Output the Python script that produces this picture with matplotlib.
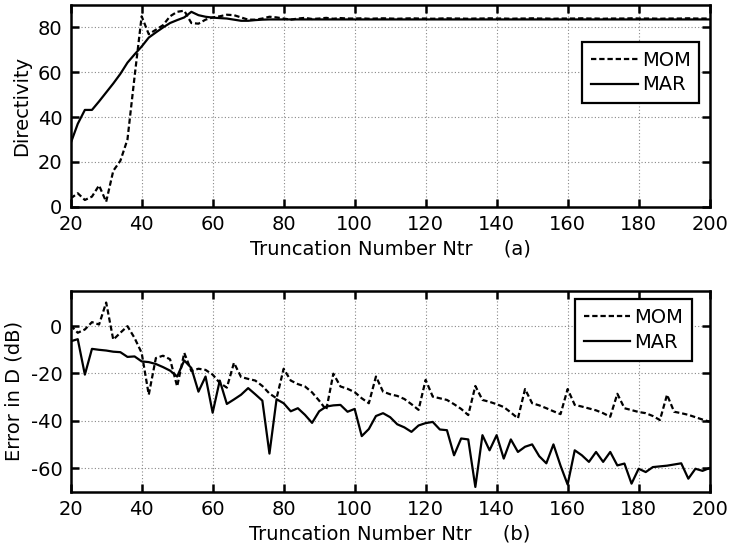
import numpy as np
import matplotlib
matplotlib.use("Agg")
import matplotlib.pyplot as plt

plt.rcParams['font.family'] = ['DejaVu Sans']
plt.rcParams['axes.unicode_minus'] = False

# truncation numbers (x axis)
ntr = np.arange(20, 201, 2)

# ---- panel (a): directivity ----
mom_dir = [3.7, 6, 3, 4.5, 9.5, 2.2, 16, 20.5, 30, 58,
           85, 77, 79, 81, 85, 87, 87.5, 82, 81.7, 83.5,
           84.5, 85, 85.7, 85.5, 84.5, 83.5, 83.5, 84, 84.8, 84.5,
           84, 83.5, 84, 84.3, 83.8, 84, 84.3, 83.9, 84.2, 84,
           84, 84.1, 83.9, 84, 84.1, 84, 83.9, 84, 84.1, 84,
           84, 83.9, 84, 84.1, 84, 84, 83.9, 84, 84, 84.1,
           84, 84, 83.9, 84, 84, 84.1, 84, 84, 83.9, 84,
           84, 84, 84.1, 84, 84, 83.9, 84, 84, 84, 84.1,
           84, 84, 84, 83.9, 84, 84, 84, 84.1, 84, 84, 84]
mar_dir = [28.3, 37, 43.2, 43.2, 47, 51, 55, 59.3, 64.3, 68,
           71.5, 75.5, 77.8, 80, 82, 83.3, 84.5, 87, 85.5, 84.8,
           84.4, 84.2, 84, 83.5, 83, 83, 83.3, 83.5, 83.6, 83.6,
           83.6, 83.6, 83.6, 83.6, 83.6, 83.6, 83.6, 83.6, 83.6, 83.6,
           83.6, 83.6, 83.6, 83.6, 83.6, 83.6, 83.6, 83.6, 83.6, 83.6,
           83.6, 83.6, 83.6, 83.6, 83.6, 83.6, 83.6, 83.6, 83.6, 83.6,
           83.6, 83.6, 83.6, 83.6, 83.6, 83.6, 83.6, 83.6, 83.6, 83.6,
           83.6, 83.6, 83.6, 83.6, 83.6, 83.6, 83.6, 83.6, 83.6, 83.6,
           83.6, 83.6, 83.6, 83.6, 83.6, 83.6, 83.6, 83.6, 83.6, 83.6, 83.6]

# ---- panel (b): error in D (dB) ----
mom_err = [0.3, -2.8, -1.4, 1.7, 0.7, 10, -5.7, -2.8, 0, -5,
           -11.3, -29, -13.5, -12.5, -14, -25.5, -11.3, -19, -18, -18.5,
           -20.5, -24, -26, -15.5, -21.5, -22.3, -23, -25.3, -28.5, -30.5,
           -18, -23, -24.5, -25.5, -28, -31.5, -35.4, -20.1, -25.5, -26.5,
           -27.9, -30.5, -32.6, -21.3, -27.7, -28.8, -29.5, -30.8, -33, -35.4,
           -22.7, -29.8, -30.5, -31.2, -33, -35, -37.6, -25.3, -31.2, -32,
           -33, -34.2, -36.5, -39, -26.6, -32.6, -33.5, -34.7, -36, -37.2,
           -26.6, -33.3, -34, -34.8, -35.6, -36.8, -38.3, -28.6, -34.7, -35.5,
           -36.3, -36.8, -38, -39.7, -29, -36.2, -36.8, -37.5, -38.5, -39.5, -40.4]
mar_err = [-6.4, -5.5, -20.5, -9.6, -10, -10.3, -10.8, -11, -13, -12.8,
           -14.9, -15.2, -16, -17.3, -18.8, -21.3, -14.5, -17.7, -27.7, -21.3,
           -36.6, -23, -32.9, -31, -29, -26.2, -28.8, -31.5, -53.9, -30.9,
           -32.6, -36, -34.7, -37.5, -40.9, -36, -34, -33.5, -33.3, -36.2,
           -35, -46.5, -43.5, -38, -36.8, -38.5, -41.5, -42.8, -44.7, -42,
           -41, -40.5, -43.7, -44, -54.6, -47.5, -47.9, -68, -46.1, -52.5,
           -46.1, -56, -47.9, -53.2, -51, -50, -55, -58, -50, -59,
           -67, -52.5, -54.6, -57.4, -53.2, -57.4, -53.2, -58.9, -58.1, -66.6,
           -60.3, -61.7, -59.6, -59.3, -59, -58.5, -58, -64.5, -60.3, -61.2, -60]

xticks = [20, 40, 60, 80, 100, 120, 140, 160, 180, 200]
yticks_a = [0, 20, 40, 60, 80]
yticks_b = [0, -20, -40, -60]

fig = plt.figure(figsize=(7.3, 5.6), dpi=100)
ax1 = fig.add_axes([0.0968, 0.6309, 0.8753, 0.3600])
ax2 = fig.add_axes([0.0968, 0.1220, 0.8753, 0.3589])

dash = (0, (2.4, 1.3))
FS = 14
LW = 1.6

def style(ax):
    ax.set_xlim(20, 200)
    ax.set_xticks(xticks)
    ax.grid(True, linestyle=(0, (1, 2)), color='#888888', linewidth=0.8)
    ax.tick_params(direction='in', top=True, right=True, length=6, width=1.8,
                   labelsize=FS, pad=6)
    for s in ax.spines.values():
        s.set_linewidth(1.8)

def legend(ax, anchor):
    leg = ax.legend(loc='upper right', bbox_to_anchor=anchor, fontsize=FS,
                    frameon=True, fancybox=False, edgecolor='black', framealpha=1,
                    handlelength=2.4, handletextpad=0.2, borderpad=0.45,
                    labelspacing=0.3, borderaxespad=0)
    leg.get_frame().set_linewidth(1.6)

ax1.plot(ntr, mom_dir, color='black', linestyle=dash, linewidth=LW, label='MOM')
ax1.plot(ntr, mar_dir, color='black', linestyle='-', linewidth=LW, label='MAR')
style(ax1)
ax1.set_ylim(0, 90)
ax1.set_yticks(yticks_a)
ax1.set_ylabel('Directivity', fontsize=FS, labelpad=5)
ax1.set_xlabel('Truncation Number Ntr     (a)', fontsize=FS, labelpad=4)
legend(ax1, (0.984, 0.818))

ax2.plot(ntr, mom_err, color='black', linestyle=dash, linewidth=LW, label='MOM')
ax2.plot(ntr, mar_err, color='black', linestyle='-', linewidth=LW, label='MAR')
style(ax2)
ax2.set_ylim(-70, 15)
ax2.set_yticks(yticks_b)
ax2.set_ylabel('Error in D (dB)', fontsize=FS, labelpad=5)
ax2.set_xlabel('Truncation Number Ntr     (b)', fontsize=FS, labelpad=4)
legend(ax2, (0.972, 0.957))

fig.savefig('out.png', dpi=100)
